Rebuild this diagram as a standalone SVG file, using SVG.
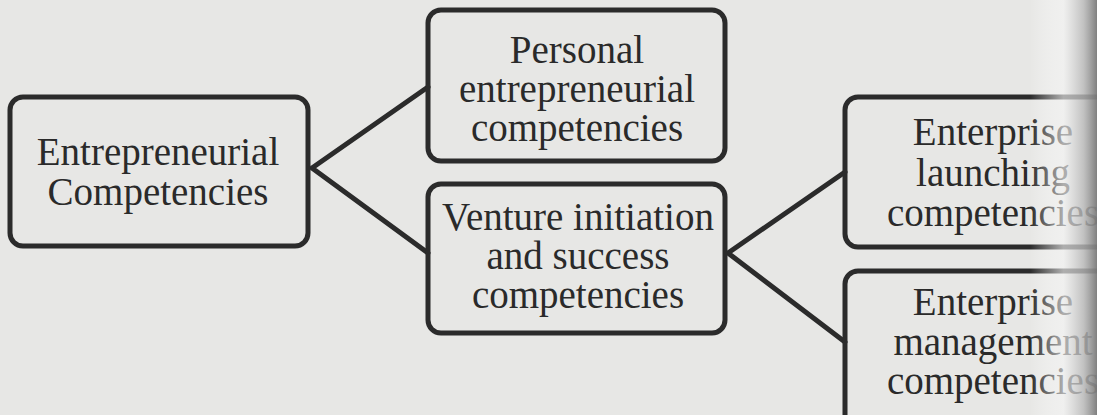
<svg xmlns="http://www.w3.org/2000/svg" width="1097" height="415" viewBox="0 0 1097 415">
<defs>
<style>
.box{fill:none;stroke:#2b2b2b;stroke-width:5}
.conn{fill:none;stroke:#2b2b2b;stroke-width:5;stroke-linecap:round}
.t{font-family:"Liberation Serif","Times New Roman",serif;font-size:39px;fill:#2a2a2a;text-anchor:middle}
</style>
<linearGradient id="edge" x1="1030" y1="0" x2="1097" y2="0" gradientUnits="userSpaceOnUse">
<stop offset="0" stop-color="#ffffff" stop-opacity="0"/>
<stop offset="0.5" stop-color="#f4f4f4" stop-opacity="0.65"/>
<stop offset="0.8" stop-color="#b8b8b8" stop-opacity="0.8"/>
<stop offset="1" stop-color="#7a7a7a" stop-opacity="0.95"/>
</linearGradient>
</defs>
<rect x="0" y="0" width="1097" height="415" fill="#e7e7e5"/>
<g id="connectors">
<path class="conn" d="M312,168 L428,87 M312,168 L428,253"/>
<path class="conn" d="M728,253 L845,172 M728,253 L845,342"/>
</g>
<g id="node-entrepreneurial">
<rect class="box" x="10" y="97" width="298" height="149" rx="13"/>
<text class="t" x="158" y="165">Entrepreneurial</text>
<text class="t" x="158" y="205">Competencies</text>
</g>
<g id="node-personal">
<rect class="box" x="428" y="10" width="297" height="151" rx="13"/>
<text class="t" x="577" y="63">Personal</text>
<text class="t" x="577" y="102">entrepreneurial</text>
<text class="t" x="577" y="141">competencies</text>
</g>
<g id="node-venture">
<rect class="box" x="428" y="184" width="297" height="149" rx="13"/>
<text class="t" x="578" y="230">Venture initiation</text>
<text class="t" x="578" y="269">and success</text>
<text class="t" x="578" y="308">competencies</text>
</g>
<g id="node-launching">
<rect class="box" x="845" y="97" width="300" height="150" rx="13"/>
<text class="t" x="993" y="145">Enterprise</text>
<text class="t" x="993" y="186">launching</text>
<text class="t" x="993" y="226">competencies</text>
</g>
<g id="node-management">
<rect class="box" x="845" y="271" width="300" height="160" rx="13"/>
<text class="t" x="993" y="315">Enterprise</text>
<text class="t" x="993" y="355">management</text>
<text class="t" x="993" y="394">competencies</text>
</g>
<rect x="1030" y="0" width="67" height="415" fill="url(#edge)"/>
</svg>
